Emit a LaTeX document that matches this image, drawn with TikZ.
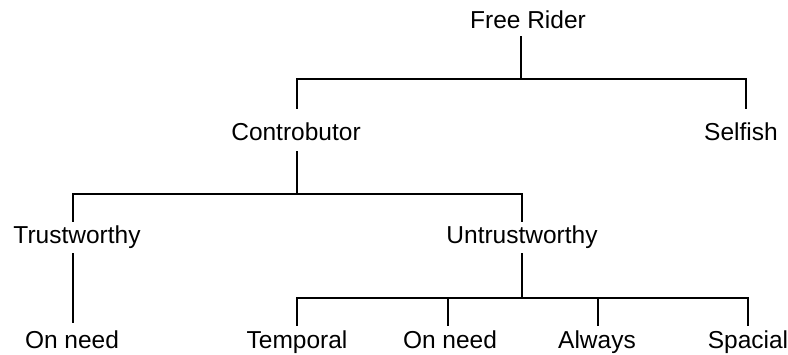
\documentclass[tikz,border=0pt]{standalone}
\usepackage{fontspec}
\setmainfont{Liberation Sans}
\begin{document}
\begin{tikzpicture}[x=1pt,y=-1pt,
  lbl/.style={anchor=base,inner sep=0pt,font=\fontsize{24.5}{28}\selectfont},
  conn/.style={line width=2pt,line cap=rect}]
\useasboundingbox (0,0) rectangle (788,354);
% labels
\node[lbl] (fr) at (528,28) {Free Rider};
\node[lbl] (con) at (296,140) {Controbutor};
\node[lbl] (sel) at (741,140) {Selfish};
\node[lbl] (tru) at (77,243) {Trustworthy};
\node[lbl] (unt) at (522,243) {Untrustworthy};
\node[lbl] (on1) at (72,348) {On need};
\node[lbl] (tem) at (297,348) {Temporal};
\node[lbl] (on2) at (450,348) {On need};
\node[lbl] (alw) at (597,348) {Always};
\node[lbl] (spa) at (748,348) {Spacial};
% junction coordinates
\coordinate (frt) at (521,37);
\coordinate (j1) at (521,79);
\coordinate (j1l) at (297,79);
\coordinate (j1r) at (746,79);
\coordinate (cont) at (297,108);
\coordinate (selt) at (746,108);
\coordinate (conb) at (297,152);
\coordinate (j2) at (297,194);
\coordinate (j2l) at (73,194);
\coordinate (j2r) at (522,194);
\coordinate (trut) at (73,221);
\coordinate (untt) at (522,221);
\coordinate (trub) at (73,254);
\coordinate (on1t) at (73,322);
\coordinate (untb) at (522,254);
\coordinate (j3) at (522,298);
\coordinate (j3l) at (297,298);
\coordinate (j3r) at (748,298);
\coordinate (temt) at (297,325);
\coordinate (j3a) at (448,298);
\coordinate (on2t) at (448,325);
\coordinate (j3b) at (598,298);
\coordinate (alwt) at (598,325);
\coordinate (spat) at (748,325);
% connectors
\draw[conn] (frt) -- (j1);
\draw[conn] (cont) -- (j1l) -- (j1r) -- (selt);
\draw[conn] (conb) -- (j2);
\draw[conn] (trut) -- (j2l) -- (j2r) -- (untt);
\draw[conn] (trub) -- (on1t);
\draw[conn] (untb) -- (j3);
\draw[conn] (temt) -- (j3l) -- (j3r) -- (spat);
\draw[conn] (j3a) -- (on2t);
\draw[conn] (j3b) -- (alwt);
\end{tikzpicture}
\end{document}
